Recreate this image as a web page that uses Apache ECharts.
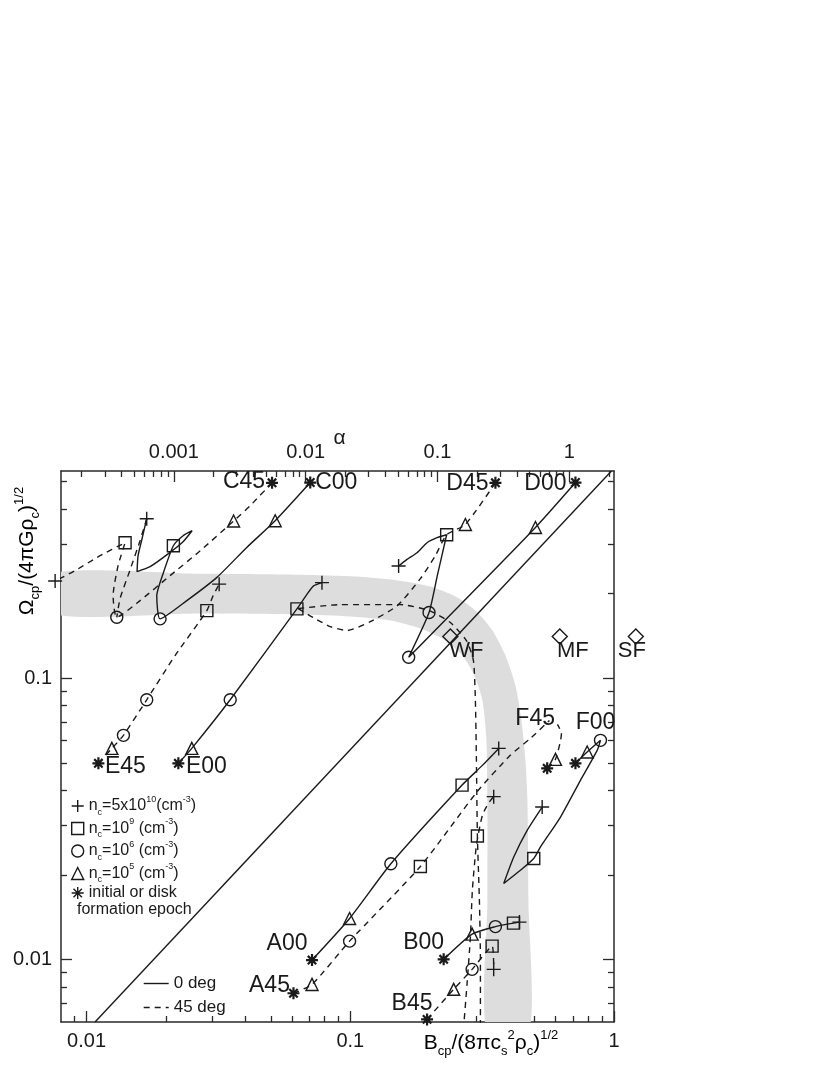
<!DOCTYPE html>
<html><head><meta charset="utf-8">
<script src="https://cdn.jsdelivr.net/npm/echarts@6/dist/echarts.min.js"></script>
<style>html,body{margin:0;padding:0;background:#fff}#c{width:830px;height:1075px}</style>
</head><body><div id="c"></div>
<script>
// ---------------- data (B, Omega) ----------------
const models = ['A00','A45','B00','B45','C00','C45','D00','D45','E00','E45','F00','F45'];
const asteriskPts = [[0.0716,0.00996],[0.0609,0.00759],[0.2260,0.01002],[0.1955,0.00613],[0.0705,0.4959],[0.0505,0.4947],[0.7142,0.4959],[0.3551,0.4947],[0.02229,0.04982],[0.01109,0.04982],[0.7142,0.04982],[0.5580,0.04783]];
const trianglePts = [[0.0994,0.0140],[0.0716,0.00816],[0.2897,0.01232],[0.2466,0.00784],[0.0519,0.3628],[0.0361,0.3619],[0.5037,0.3434],[0.2732,0.3519],[0.02506,0.05631],[0.01247,0.05631],[0.7911,0.05464],[0.5999,0.05148]];
const circlePts = [[0.1425,0.0219],[0.0994,0.01163],[0.3551,0.0131],[0.2897,0.00923],[0.0190,0.1625],[0.01302,0.1646],[0.1665,0.1187],[0.1989,0.1711],[0.03505,0.08382],[0.0138,0.06265],[0.01691,0.08382],[0.8887,0.06014]];
const squarePts = [[0.2654,0.0417],[0.1844,0.02142],[0.4157,0.01348],[0.345,0.01116],[0.02134,0.2957],[0.0140,0.3031],[0.232,0.3235],[0.06276,0.1763],[0.02859,0.1739],[0.4963,0.02286],[0.3034,0.0275]];
const plusPts = [[0.3655,0.0563],[0.438,0.01359],[0.3498,0.00923],[0.01691,0.3687],[0.0076,0.2216],[0.1525,0.2505],[0.0781,0.2186],[0.03183,0.2159],[0.5341,0.03485],[0.3498,0.03794]];
const cloudNames = ['WF','MF','SF'];
const cloudPts = [[0.2396,0.1406],[0.6228,0.1406],[1.2099,0.1406]];

const trackA00 = [[0.0716,0.00996],[0.0994,0.0140],[0.1425,0.0219],[0.2654,0.0417],[0.3169,0.0490],[0.3655,0.0563]];
const trackA45 = [[0.0609,0.00759],[0.0716,0.00816],[0.0994,0.01163],[0.1844,0.02142],[0.3026,0.0395],[0.4049,0.0533],[0.4822,0.0611],[0.5693,0.0708]];
const trackB00 = [[0.2260,0.01002],[0.2897,0.01232],[0.3551,0.0131],[0.4157,0.01348],[0.4380,0.01359]];
const trackB45 = [[0.1955,0.00613],[0.2466,0.00784],[0.2897,0.00923],[0.3450,0.01116],[0.3498,0.00923]];
const trackC00 = [[0.0705,0.4959],[0.0519,0.3628],[0.0405,0.2916],[0.0312,0.2282],[0.0240,0.1887],[0.0190,0.1625],[0.01846,0.1966],[0.01956,0.2372],[0.02134,0.2957],[0.02323,0.3209],[0.02513,0.3343],[0.02323,0.3056],[0.0202,0.2748],[0.01741,0.2491],[0.01554,0.2391],[0.01568,0.2725],[0.01623,0.3131],[0.01691,0.3687]];
const trackC45 = [[0.0505,0.4947],[0.0417,0.4101],[0.0361,0.3619],[0.0270,0.2839],[0.02074,0.2315],[0.01595,0.1887],[0.01302,0.1646],[0.01261,0.1966],[0.01317,0.2512],[0.0140,0.3031],[0.01125,0.2725],[0.00904,0.2411],[0.0076,0.2216]];
const trackC45b = [[0.01691,0.3687],[0.01595,0.3081],[0.01463,0.2430],[0.01340,0.1920],[0.01302,0.1646]];
const trackD00 = [[0.7142,0.4959],[0.5037,0.3434],[0.1665,0.1187],[0.1989,0.1711],[0.2138,0.2315],[0.2320,0.3235],[0.2133,0.3157],[0.1955,0.3031],[0.1791,0.2793],[0.1641,0.2644],[0.1525,0.2505]];
const trackD45 = [[0.3551,0.4947],[0.2732,0.3519],[0.2320,0.3235],[0.2102,0.2725],[0.1844,0.2258],[0.1508,0.1811],[0.1191,0.1589],[0.0974,0.1477],[0.0839,0.1526],[0.0724,0.1642],[0.0635,0.1768]];
const trackD45b = [[0.0635,0.1768],[0.0916,0.1826],[0.1548,0.1826],[0.1989,0.1739],[0.2396,0.1577],[0.2756,0.1361],[0.2930,0.1156],[0.2981,0.0833],[0.3008,0.0511],[0.3034,0.0275],[0.3087,0.01627],[0.3115,0.00996],[0.3115,0.00562]];
const trackX = [[0.2685,0.00562],[0.2773,0.00825],[0.2854,0.01202],[0.2904,0.01765],[0.3008,0.02548],[0.3169,0.03256],[0.3340,0.03592],[0.3498,0.03794]];
const trackE00 = [[0.02229,0.04982],[0.02506,0.05631],[0.03505,0.08382],[0.06276,0.17632],[0.0685,0.1986],[0.0726,0.2128],[0.0781,0.2186]];
const trackE45 = [[0.01109,0.04982],[0.01247,0.05631],[0.01380,0.06265],[0.01691,0.08382],[0.02166,0.12036],[0.02859,0.1739],[0.03020,0.1966],[0.03183,0.2159]];
const trackF00 = [[0.7142,0.04982],[0.7911,0.05464],[0.8887,0.06014],[0.8634,0.0554],[0.7461,0.04335],[0.6267,0.03211],[0.5262,0.02513],[0.4963,0.02286],[0.4418,0.02077],[0.3818,0.01864],[0.4167,0.02316],[0.4685,0.0288],[0.5341,0.03485]];
const trackF45 = [[0.5580,0.04783],[0.5999,0.05148],[0.6321,0.06368],[0.6104,0.0685]];
const refLine = [[0.01077,0.006],[0.978,0.545]];

// flux-spin relation band
const bandOuter = [[0.00727,0.2352],[0.02696,0.2352],[0.06459,0.2333],[0.10913,0.2295],[0.15478,0.2222],[0.20121,0.2116],[0.25034,0.1950],[0.29814,0.1739],[0.34590,0.1477],[0.38748,0.1204],[0.42284,0.0942],[0.44560,0.0708],[0.46144,0.0511],[0.46957,0.0368],[0.47369,0.01627],[0.47369,0.0054]];
const bandInner = [[0.00727,0.1697],[0.02696,0.1697],[0.06459,0.1683],[0.1,0.1656],[0.14185,0.1603],[0.18444,0.1501],[0.22935,0.1361],[0.26610,0.1204],[0.29555,0.1022],[0.31694,0.0833],[0.32823,0.0601],[0.33110,0.0368],[0.33110,0.01627],[0.33110,0.0054]];

// axes
const xRange = [0.008, 1];
const yRange = [0.006, 0.545];
const alphaFactor = 2.18; // alpha = 2.18 * B^2
const xTickValues = [0.01, 0.1, 1];
const xTickLabels = ['0.01', '0.1', '1'];
const yTickValues = [0.01, 0.1];
const yTickLabels = ['0.01', '0.1'];
const alphaTickValues = [0.001, 0.01, 0.1, 1];
const alphaTickLabels = ['0.001', '0.01', '0.1', '1'];

// ---------------- build ----------------
const lg = Math.log10;
const L = pts => pts.map(p => [lg(p[0]), lg(p[1])]);
function minorLogs(lo, hi) {
  const out = [];
  for (let e = Math.floor(lg(lo)) - 1; e <= Math.ceil(lg(hi)); e++) {
    for (let k = 2; k <= 9; k++) {
      const v = k * Math.pow(10, e);
      if (v > lo * 1.0001 && v < hi * 0.9999) out.push(lg(v));
    }
  }
  return out;
}
const FONT = 'Liberation Sans, Arial, Helvetica, sans-serif';
const INK = '#1a1a1a';
const AX = '#2a2a2a';
const labelMap = (vals, labs) => { const m = {}; vals.forEach((v, i) => m[lg(v).toFixed(3)] = labs[i]); return m; };
const xLab = labelMap(xTickValues, xTickLabels);
const yLab = labelMap(yTickValues, yTickLabels);
const aLab = labelMap(alphaTickValues, alphaTickLabels);
const xMin = lg(xRange[0]), xMax = lg(xRange[1]);
const yMin = lg(yRange[0]), yMax = lg(yRange[1]);
const aMin = lg(alphaFactor) + 2 * xMin, aMax = lg(alphaFactor) + 2 * xMax;

function axis(pos, min, max, major, labMap, showLine, showLabel) {
  return {
    type: 'value', position: pos, min: min, max: max,
    axisLine: { show: showLine, onZero: false, lineStyle: { color: AX, width: 1.5 } },
    splitLine: { show: false },
    axisTick: { show: true, inside: true, length: major ? 11 : 6, lineStyle: { color: AX, width: 1.3 },
                customValues: major ? labMap.__vals : labMap.__minor },
    axisLabel: { show: showLabel, customValues: major ? labMap.__vals : [], margin: 9,
                 fontSize: 20, color: INK, fontFamily: FONT,
                 formatter: v => labMap[(+v).toFixed(3)] || '' }
  };
}
xLab.__vals = xTickValues.map(lg); xLab.__minor = minorLogs(xRange[0], xRange[1]);
yLab.__vals = yTickValues.map(lg); yLab.__minor = minorLogs(yRange[0], yRange[1]);
aLab.__vals = alphaTickValues.map(lg);
aLab.__minor = minorLogs(Math.pow(10, aMin), Math.pow(10, aMax));

const xAxes = [
  axis('bottom', xMin, xMax, true, xLab, true, true),
  axis('bottom', xMin, xMax, false, xLab, false, false),
  Object.assign(axis('top', aMin, aMax, true, aLab, true, true),
    { name: 'α', nameLocation: 'middle', nameGap: 22, nameMoveOverlap: false,
      nameTextStyle: { fontSize: 21, color: INK, fontFamily: FONT, padding: [0, 0, 0, 4] } }),
  axis('top', aMin, aMax, false, aLab, false, false)
];
const yAxes = [
  axis('left', yMin, yMax, true, yLab, true, true),
  axis('left', yMin, yMax, false, yLab, false, false),
  axis('right', yMin, yMax, true, yLab, true, false),
  axis('right', yMin, yMax, false, yLab, false, false)
];

const labelOffsets = {A00:[-25,-16],A45:[-24,-8],B00:[-20,-17],B45:[-15,-16],C00:[26,0],C45:[-28,-1],
  D00:[-30,1],D45:[-28,1],E00:[28,3],E45:[27,3],F00:[20,-41],F45:[-12,-50]};
const cloudOffsets = {WF:[16,14], MF:[13,14], SF:[-4,14]};

const series = [];
series.push({
  type: 'custom', name: 'band', silent: true, z: 1, clip: true, data: [0],
  renderItem: (params, api) => {
    const pts = L(bandOuter).concat(L(bandInner).reverse()).map(p => api.coord(p));
    return { type: 'polygon', shape: { points: pts, smooth: 0.25 }, style: { fill: '#dddddd' } };
  }
});
const solid = [trackA00, trackB00, trackC00, trackD00, trackE00, trackF00, refLine];
const dashed = [trackA45, trackB45, trackC45, trackC45b, trackD45, trackD45b, trackX, trackE45, trackF45];
solid.forEach(t => series.push({ type: 'line', name: '0 deg', data: L(t), symbol: 'none', smooth: 0.2, z: 3,
  itemStyle: { color: INK }, lineStyle: { color: INK, width: 1.4, type: 'solid' }, silent: true }));
dashed.forEach(t => series.push({ type: 'line', name: '45 deg', data: L(t), symbol: 'none', smooth: 0.2, z: 3,
  itemStyle: { color: INK }, lineStyle: { color: INK, width: 1.4, type: [6, 5] }, silent: true }));

const openStyle = { color: 'rgba(255,255,255,0)', borderColor: INK, borderWidth: 1.4, opacity: 1 };
function markers(name, pts, symbol, size) {
  return { type: 'scatter', name: name, data: L(pts), symbol: symbol, symbolSize: size, z: 4,
    clip: false, silent: true, itemStyle: openStyle };
}
series.push(markers('nc5e10', plusPts, 'path://M6,0V12M0,6H12', 14));
series.push(markers('nc1e9', squarePts, 'rect', 12));
series.push(markers('nc1e6', circlePts, 'circle', 12));
series.push(markers('nc1e5', trianglePts, 'triangle', 12));
series.push({
  type: 'scatter', name: 'epoch', z: 5, clip: false, silent: true,
  symbol: 'path://M6,0V12M0,6H12M1.8,1.8L10.2,10.2M1.8,10.2L10.2,1.8', symbolSize: 12,
  itemStyle: { color: 'rgba(0,0,0,0)', borderColor: INK, borderWidth: 2.2, opacity: 1 },
  data: L(asteriskPts).map((p, i) => ({ name: models[i], value: p,
    label: { show: true, position: 'inside', offset: labelOffsets[models[i]], formatter: '{b}',
             fontSize: 23, color: INK, fontFamily: FONT } }))
});
series.push({
  type: 'scatter', name: 'clouds', z: 4, clip: false, silent: true, symbol: 'diamond', symbolSize: 15,
  itemStyle: openStyle,
  data: L(cloudPts).map((p, i) => ({ name: cloudNames[i], value: p,
    label: { show: true, position: 'inside', offset: cloudOffsets[cloudNames[i]], formatter: '{b}',
             fontSize: 22, color: INK, fontFamily: FONT } }))
});

const rich = {
  t: { fontSize: 16, lineHeight: 22, color: INK, fontFamily: FONT },
  s: { fontSize: 9, verticalAlign: 'bottom', color: INK, fontFamily: FONT },
  p: { fontSize: 9, verticalAlign: 'top', color: INK, fontFamily: FONT }
};
const legendText = {
  nc5e10: '{t|n}{s|c}{t|=5x10}{p|10}{t|(cm}{p|-3}{t|)}',
  nc1e9: '{t|n}{s|c}{t|=10}{p|9}{t| (cm}{p|-3}{t|)}',
  nc1e6: '{t|n}{s|c}{t|=10}{p|6}{t| (cm}{p|-3}{t|)}',
  nc1e5: '{t|n}{s|c}{t|=10}{p|5}{t| (cm}{p|-3}{t|)}',
  epoch: '{t|initial or disk}'
};
const nameRich = {
  t: { fontSize: 21, lineHeight: 29, color: INK, fontFamily: FONT },
  s: { fontSize: 13, verticalAlign: 'bottom', color: INK, fontFamily: FONT },
  p: { fontSize: 13, verticalAlign: 'top', color: INK, fontFamily: FONT }
};

const option = {
  animation: false,
  textStyle: { fontFamily: FONT },
  grid: { left: 61, top: 471, width: 553, height: 551, containLabel: false },
  xAxis: xAxes, yAxis: yAxes,
  legend: [
    { data: ['nc5e10','nc1e9','nc1e6','nc1e5','epoch'], orient: 'vertical', left: 66, top: 790,
      itemWidth: 12, itemHeight: 12, itemGap: 0.5, selectedMode: false,
      itemStyle: { borderWidth: 1.4 },
      formatter: n => legendText[n], textStyle: { rich: rich } },
    { data: ['0 deg','45 deg'], orient: 'vertical', left: 138, top: 970, itemWidth: 25, itemHeight: 14,
      itemGap: 7, selectedMode: false,
      itemStyle: { color: 'rgba(0,0,0,0)', borderWidth: 0, opacity: 0 },
      lineStyle: { color: INK, width: 1.4 },
      textStyle: { fontSize: 17, color: INK, fontFamily: FONT, lineHeight: 14 } }
  ],
  graphic: [
    { type: 'text', x: 27, y: 551, rotation: Math.PI / 2, z: 10,
      style: { text: '{t|Ω}{s|cp}{t|/(4πGρ}{s|c}{t|)}{p|1/2}', rich: nameRich, align: 'center', verticalAlign: 'middle' } },
    { type: 'text', x: 491, y: 1043, z: 10,
      style: { text: '{t|B}{s|cp}{t|/(8πc}{s|s}{p|2}{t|ρ}{s|c}{t|)}{p|1/2}', rich: nameRich, align: 'center', verticalAlign: 'middle' } },
    { type: 'text', x: 77, y: 910, z: 10,
      style: { text: 'formation epoch', fontSize: 16, fill: INK, fontFamily: FONT, align: 'left', verticalAlign: 'middle' } }
  ],
  series: series
};
const chart = echarts.init(document.getElementById('c'), null, { renderer: 'canvas' });
chart.setOption(option);
</script></body></html>
